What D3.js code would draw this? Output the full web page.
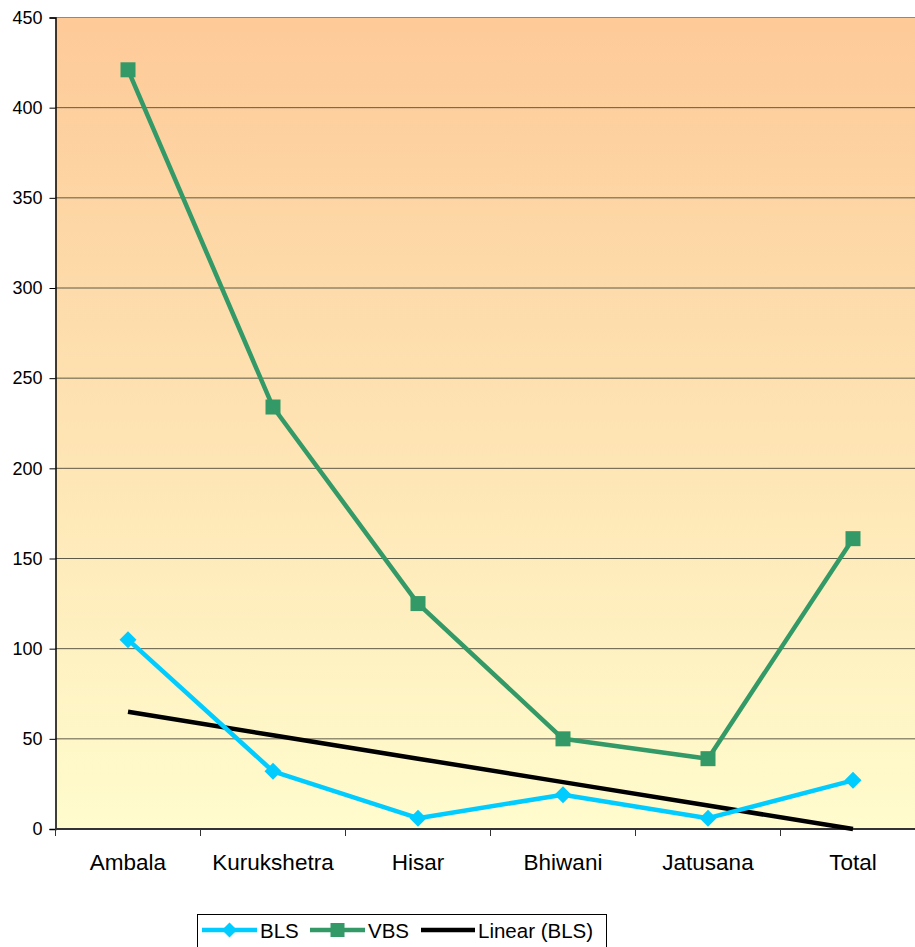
<!DOCTYPE html>
<html>
<head>
<meta charset="utf-8">
<script src="https://cdn.jsdelivr.net/npm/d3@7"></script>
<style>
  html, body { margin: 0; padding: 0; background: #fff; }
  svg { display: block; font-family: "Liberation Sans", Arial, sans-serif; }
</style>
</head>
<body>
<svg id="chart" width="915" height="947"></svg>
<script>
// Sites along the x axis
const categories = ["Ambala", "Kurukshetra", "Hisar", "Bhiwani", "Jatusana", "Total"];
// Series values per site
const blsValues = [105, 32, 6, 19, 6, 27];
const vbsValues = [421, 234, 125, 50, 39, 161];
// Y axis ticks
const yTicks = [0, 50, 100, 150, 200, 250, 300, 350, 400, 450];
const legendLabels = ["BLS", "VBS", "Linear (BLS)"];

const svg = d3.select("#chart");
const margin = { left: 55.5, top: 17.5 };
const bandW = 145;
const plotW = bandW * categories.length;
const plotH = 811.5;

const x = d3.scaleBand().domain(categories).range([margin.left, margin.left + plotW]);
const y = d3.scaleLinear().domain([0, 450]).range([margin.top + plotH, margin.top]);
const cx = d => x(d) + x.bandwidth() / 2;

// Plot background gradient
const defs = svg.append("defs");
const grad = defs.append("linearGradient").attr("id", "bg").attr("x1", 0).attr("y1", 0).attr("x2", 0).attr("y2", 1);
grad.append("stop").attr("offset", "0%").attr("stop-color", "#FDCA98");
grad.append("stop").attr("offset", "100%").attr("stop-color", "#FFFCCD");

svg.append("rect")
  .attr("x", margin.left).attr("y", margin.top)
  .attr("width", plotW).attr("height", plotH)
  .attr("fill", "url(#bg)");

// Horizontal gridlines
svg.append("g").selectAll("line")
  .data(yTicks.filter(t => t > 0))
  .join("line")
  .attr("x1", margin.left).attr("x2", margin.left + plotW)
  .attr("y1", d => y(d)).attr("y2", d => y(d))
  .attr("stroke", d => d === 450 ? "#8a8a8a" : "#5e5a48")
  .attr("stroke-width", 1);

// Y axis
const yAxis = svg.append("g")
  .attr("transform", `translate(${margin.left},0)`)
  .call(d3.axisLeft(y).tickValues(yTicks).tickSize(6).tickPadding(7));
yAxis.select(".domain").attr("stroke", "#000").attr("stroke-width", 1.5);
yAxis.selectAll(".tick line").attr("stroke", "#000");
yAxis.selectAll("text").attr("font-size", 18).attr("fill", "#000")
  .attr("font-family", "Liberation Sans, Arial, sans-serif");

// X axis with ticks at band boundaries
const xAxisG = svg.append("g").attr("transform", `translate(0,${y(0)})`);
xAxisG.append("line")
  .attr("x1", margin.left).attr("x2", margin.left + plotW)
  .attr("stroke", "#333").attr("stroke-width", 2);
xAxisG.selectAll("line.tick")
  .data(d3.range(categories.length + 1))
  .join("line").attr("class", "tick")
  .attr("x1", i => margin.left + i * bandW).attr("x2", i => margin.left + i * bandW)
  .attr("y1", 0).attr("y2", 7)
  .attr("stroke", "#333").attr("stroke-width", 1);
xAxisG.selectAll("text")
  .data(categories)
  .join("text")
  .attr("x", d => cx(d)).attr("y", 41)
  .attr("text-anchor", "middle")
  .attr("font-size", 22.5).attr("fill", "#000")
  .text(d => d);

// Linear trend of BLS (least squares over category index)
const n = blsValues.length;
const xs = d3.range(1, n + 1);
const mx = d3.mean(xs), my = d3.mean(blsValues);
const slope = d3.sum(xs, (xi, i) => (xi - mx) * (blsValues[i] - my)) / d3.sum(xs, xi => (xi - mx) ** 2);
const intercept = my - slope * mx;
const trend = xs.map(xi => intercept + slope * xi);

const line = d3.line().x((d, i) => cx(categories[i])).y(d => y(d));

svg.append("path").datum(trend).attr("d", line)
  .attr("fill", "none").attr("stroke", "#000").attr("stroke-width", 4.5);

svg.append("path").datum(blsValues).attr("d", line)
  .attr("fill", "none").attr("stroke", "#00CCFF").attr("stroke-width", 4.5)
  .attr("stroke-linejoin", "round");

svg.append("path").datum(vbsValues).attr("d", line)
  .attr("fill", "none").attr("stroke", "#339966").attr("stroke-width", 4.5)
  .attr("stroke-linejoin", "round");

// Markers
const diamond = s => `M0,${-s}L${s},0L0,${s}L${-s},0Z`;
svg.append("g").selectAll("path")
  .data(blsValues)
  .join("path")
  .attr("transform", (d, i) => `translate(${cx(categories[i])},${y(d)})`)
  .attr("d", diamond(8.5))
  .attr("fill", "#00CCFF");

svg.append("g").selectAll("rect")
  .data(vbsValues)
  .join("rect")
  .attr("x", (d, i) => cx(categories[i]) - 7.5)
  .attr("y", d => y(d) - 7.5)
  .attr("width", 15).attr("height", 15)
  .attr("fill", "#339966");

// Legend
const lg = svg.append("g");
lg.append("rect")
  .attr("x", 197.5).attr("y", 914.5).attr("width", 409).attr("height", 45)
  .attr("fill", "#fff").attr("stroke", "#000").attr("stroke-width", 1);
const ly = 930;
const items = [
  { x1: 202, x2: 257, tx: 260, color: "#00CCFF", marker: "diamond" },
  { x1: 310, x2: 365, tx: 368, color: "#339966", marker: "square" },
  { x1: 421, x2: 475, tx: 478, color: "#000", marker: null }
];
items.forEach((it, i) => {
  lg.append("line").attr("x1", it.x1).attr("x2", it.x2).attr("y1", ly).attr("y2", ly)
    .attr("stroke", it.color).attr("stroke-width", 4.5);
  const mxp = (it.x1 + it.x2) / 2;
  if (it.marker === "diamond") {
    lg.append("path").attr("transform", `translate(${mxp},${ly})`).attr("d", diamond(7.5)).attr("fill", it.color);
  } else if (it.marker === "square") {
    lg.append("rect").attr("x", mxp - 7).attr("y", ly - 7).attr("width", 14).attr("height", 14).attr("fill", it.color);
  }
  lg.append("text").attr("x", it.tx).attr("y", ly + 7.5)
    .attr("font-size", 20.5).attr("fill", "#000").text(legendLabels[i]);
});
</script>
</body>
</html>
